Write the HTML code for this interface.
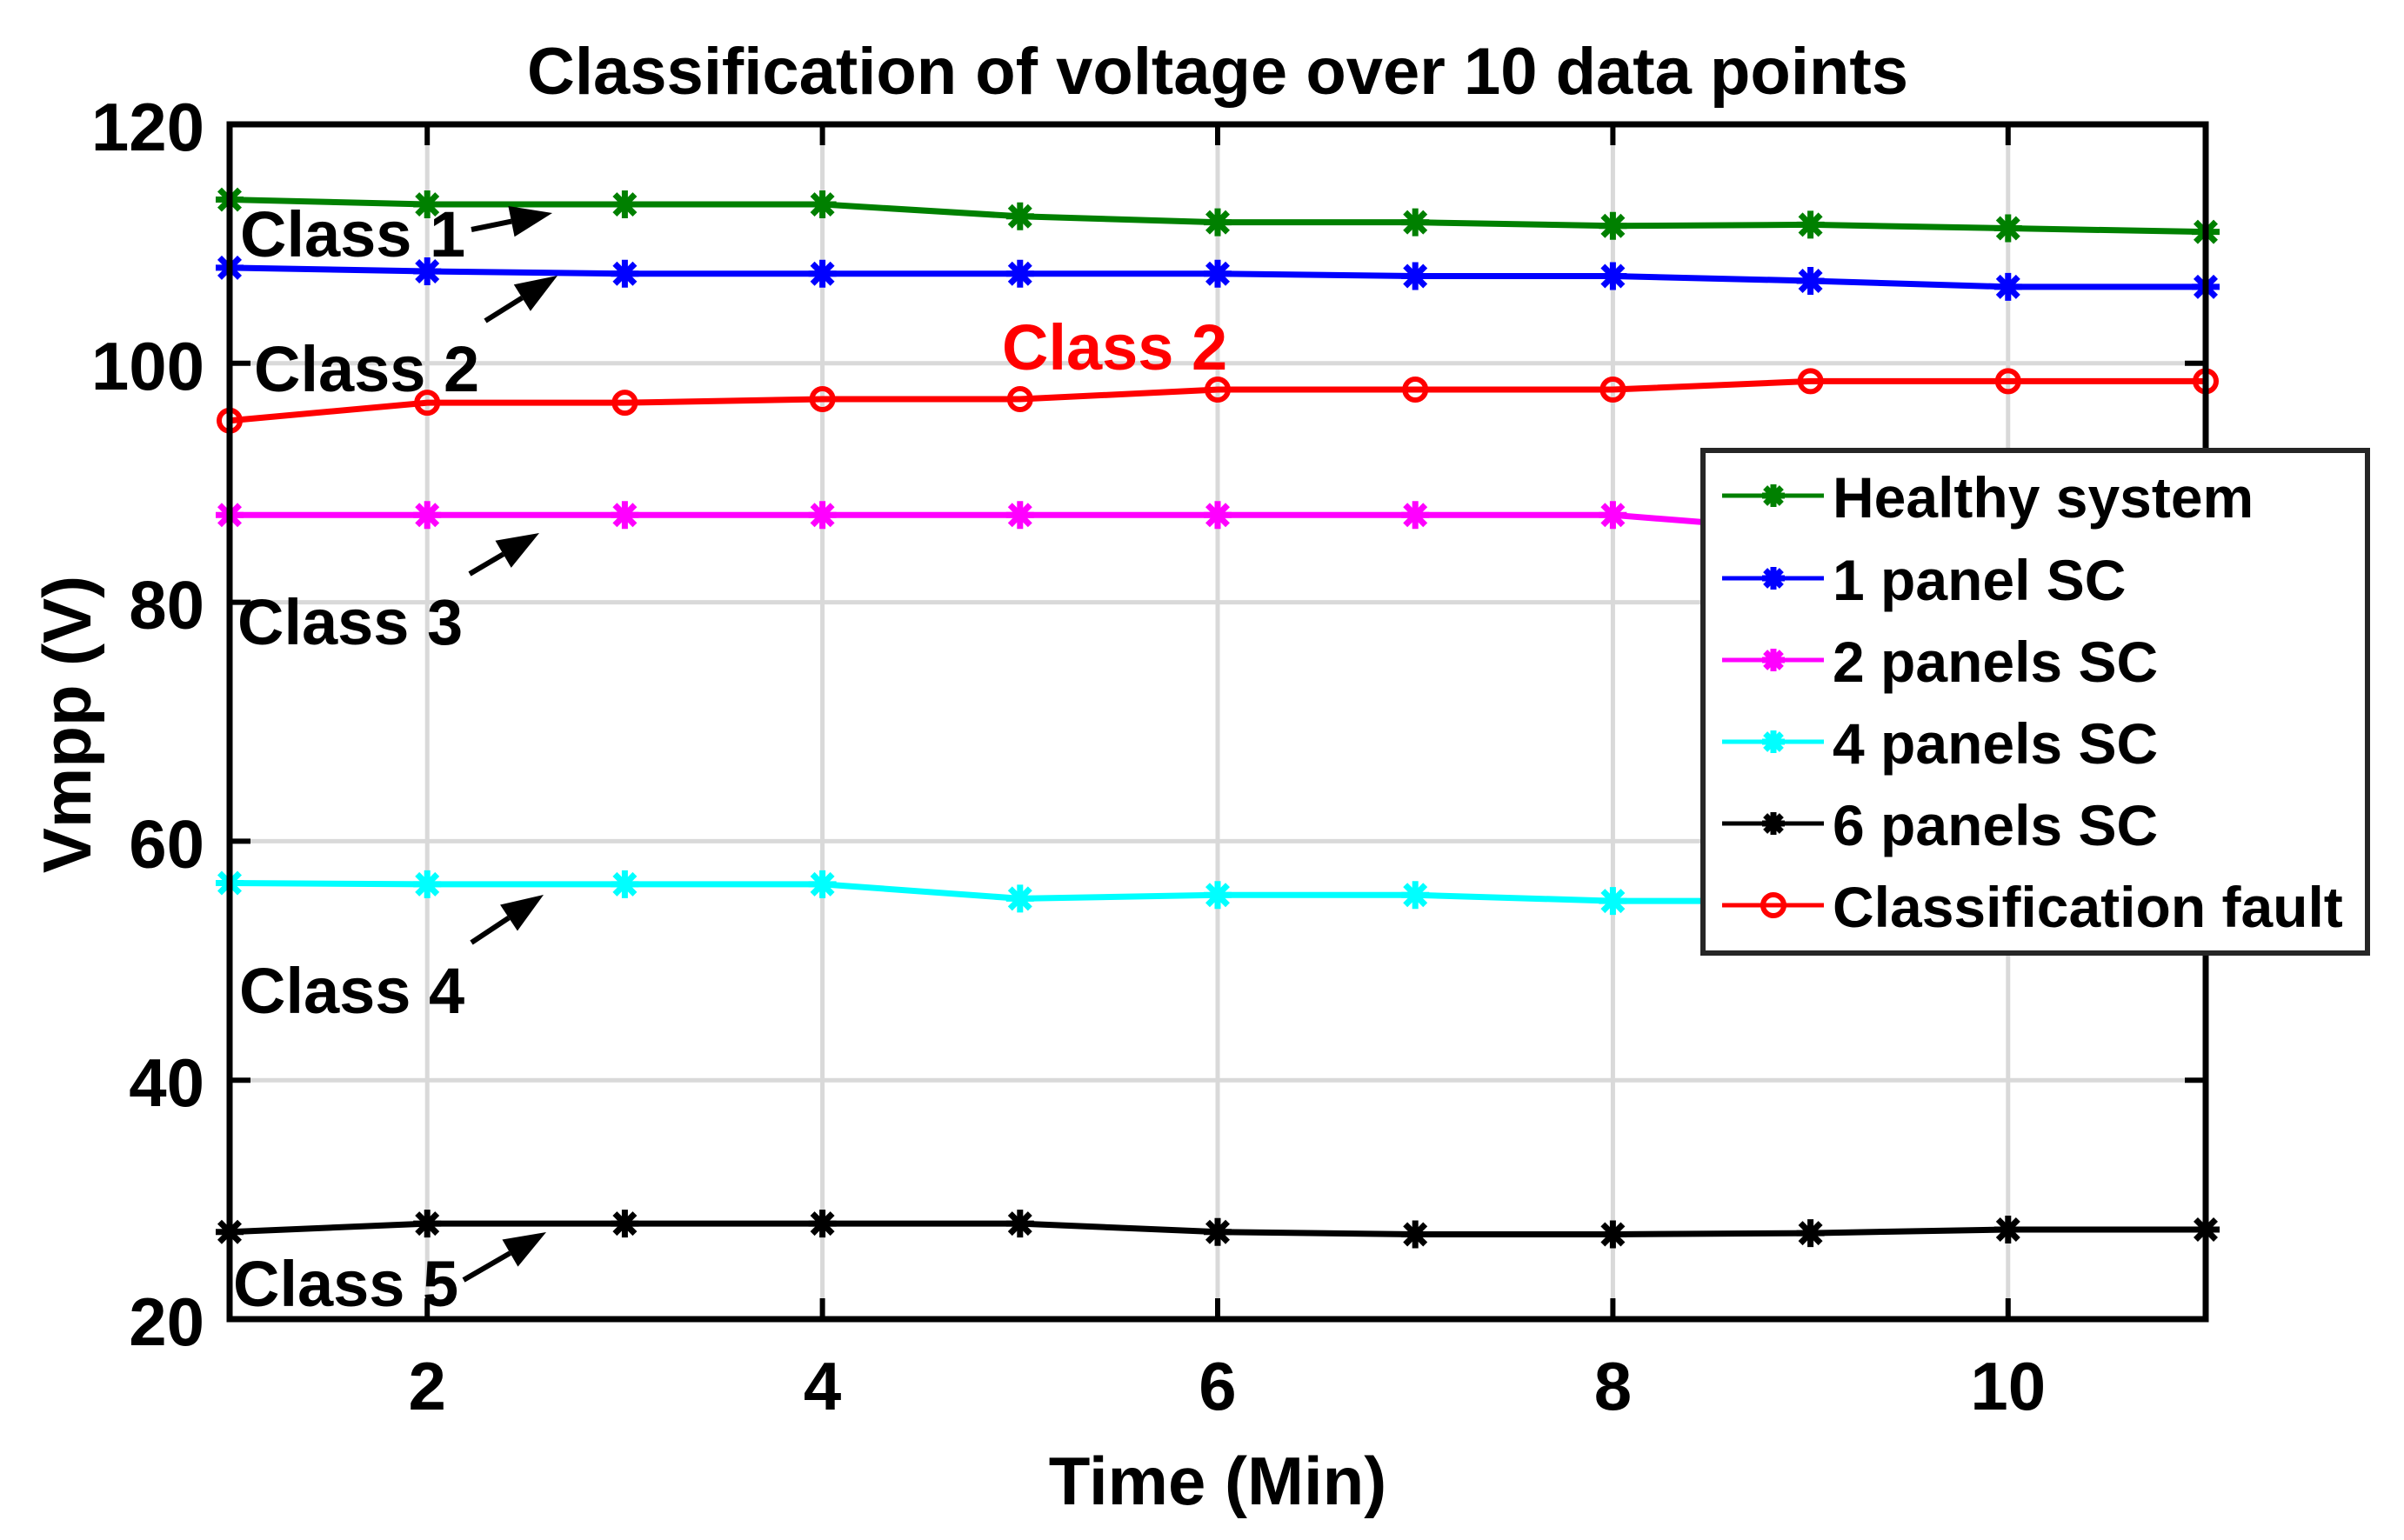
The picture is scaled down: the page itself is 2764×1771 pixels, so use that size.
<!DOCTYPE html>
<html><head><meta charset="utf-8"><style>
html,body{margin:0;padding:0;background:#fff;}
svg{display:block;font-family:"Liberation Sans",Arial,sans-serif;font-weight:bold;}
</style></head><body>
<svg id="chart" width="2764" height="1771" viewBox="0 0 2764 1771" xmlns="http://www.w3.org/2000/svg">
<rect width="2764" height="1771" fill="#fff"/>
<g id="grid"></g>
<g id="series"></g>
<g id="axes"></g>
<text x="1400" y="108" font-size="76" text-anchor="middle">Classification of voltage over 10 data points</text>
<text x="1400" y="1730" font-size="78" text-anchor="middle">Time (Min)</text>
<text x="0" y="0" font-size="78" text-anchor="middle" transform="translate(104,833) rotate(-90)">Vmpp (V)</text>
<g font-size="74">
<text x="276" y="295">Class 1</text>
<text x="292" y="450">Class 2</text>
<text x="273" y="741">Class 3</text>
<text x="275" y="1165">Class 4</text>
<text x="268" y="1502">Class 5</text>
<text x="1152" y="425" fill="#ff0000">Class 2</text>
</g>
<g id="arrows"></g>
<g id="legend"></g>
</svg>
<script>
const xValues = [1,2,3,4,5,6,7,8,9,10,11];
const healthy = [113.7,113.3,113.3,113.3,112.3,111.8,111.8,111.5,111.6,111.3,111.0];
const panel1 = [108.0,107.7,107.5,107.5,107.5,107.5,107.3,107.3,106.9,106.4,106.4];
const panel2 = [87.3,87.3,87.3,87.3,87.3,87.3,87.3,87.3,86.0,86.0,86.0];
const panel4 = [56.5,56.4,56.4,56.4,55.2,55.5,55.5,55.0,55.0,55.0,55.0];
const panel6 = [27.3,28.0,28.0,28.0,28.0,27.3,27.1,27.1,27.2,27.5,27.5];
const fault = [95.2,96.7,96.7,97.0,97.0,97.8,97.8,97.8,98.5,98.5,98.5];
const xTicks = [2,4,6,8,10];
const yTicks = [20,40,60,80,100,120];
const legendLabels = ["Healthy system","1 panel SC","2 panels SC","4 panels SC","6 panels SC","Classification fault"];

const NS="http://www.w3.org/2000/svg";
const L=264,R=2536,T=143,B=1517;
const X=v=>L+(v-1)*(R-L)/10;
const Y=v=>B-(v-20)*(B-T)/100;
function mk(tag,attrs,parent){const e=document.createElementNS(NS,tag);for(const k in attrs)e.setAttribute(k,attrs[k]);parent.appendChild(e);return e;}
const grid=document.getElementById('grid'),axes=document.getElementById('axes'),ser=document.getElementById('series'),arr=document.getElementById('arrows'),leg=document.getElementById('legend');

xTicks.forEach(t=>{
  const g=mk('line',{x1:X(t),x2:X(t),y1:T,y2:B,stroke:'#d9d9d9','stroke-width':5},grid);
  
  
  const tk=mk('line',{x1:X(t),x2:X(t),y1:B,y2:B-24,stroke:'#000','stroke-width':6},axes);
  
  
  const tk2=mk('line',{x1:X(t),x2:X(t),y1:T,y2:T+24,stroke:'#000','stroke-width':6},axes);
  
  
  const lb=mk('text',{x:X(t),y:1621,'font-size':78,'text-anchor':'middle'},axes);
  lb.textContent=t;
  
  
});
yTicks.forEach(t=>{
  if(t>20&&t<120){
    const g=mk('line',{x1:L,x2:R,y1:Y(t),y2:Y(t),stroke:'#d9d9d9','stroke-width':5},grid);
    
    
  }
  const tk=mk('line',{x1:L,x2:L+24,y1:Y(t),y2:Y(t),stroke:'#000','stroke-width':6},axes);
  
  
  const tk2=mk('line',{x1:R,x2:R-24,y1:Y(t),y2:Y(t),stroke:'#000','stroke-width':6},axes);
  
  
  const lb=mk('text',{x:235,y:Y(t)+30,'font-size':78,'text-anchor':'end'},axes);
  lb.textContent=t;
  
  
});
const box=mk('rect',{x:L,y:T,width:R-L,height:B-T,fill:'none',stroke:'#000','stroke-width':7},axes);



function star(cx,cy,color,parent,s){
  const g=mk('g',{stroke:color,'stroke-width':7},parent);
  
  
  mk('line',{x1:cx-s,x2:cx+s,y1:cy,y2:cy},g);
  mk('line',{x1:cx,x2:cx,y1:cy-s,y2:cy+s},g);
  const d=s*0.72;
  mk('line',{x1:cx-d,x2:cx+d,y1:cy-d,y2:cy+d},g);
  mk('line',{x1:cx-d,x2:cx+d,y1:cy+d,y2:cy-d},g);
}
function circ(cx,cy,color,parent){
  const c=mk('circle',{cx:cx,cy:cy,r:12,fill:'none',stroke:color,'stroke-width':6},parent);
  
  
}
const allSeries=[[healthy,'#008000','star','healthy-system-line'],[panel1,'#0000ff','star','1-panel-sc-line'],[panel2,'#ff00ff','star','2-panels-sc-line'],[panel4,'#00ffff','star','4-panels-sc-line'],[panel6,'#000000','star','6-panels-sc-line'],[fault,'#ff0000','circle','classification-fault-line']];
allSeries.forEach(([vals,col,mkType,name])=>{
  const g=mk('g',{},ser);
  
  
  const p=mk('polyline',{points:vals.map((v,i)=>X(xValues[i])+','+Y(v)).join(' '),fill:'none',stroke:col,'stroke-width':7},g);
  
  
  vals.forEach((v,i)=>{ if(mkType==='star') star(X(xValues[i]),Y(v),col,g,16); else circ(X(xValues[i]),Y(v),col,g); });
});

const arrowList=[[542,264,635,245],[558,369,641,317],[540,660,620,613],[542,1084,625,1029],[533,1472,628,1417]];
arrowList.forEach(a=>{
  const g=mk('g',{},arr);
  
  
  const [x1,y1,x2,y2]=a;const ang=Math.atan2(y2-y1,x2-x1);const hl=48,hw=18;
  const bx=x2-hl*Math.cos(ang),by=y2-hl*Math.sin(ang);
  mk('line',{x1:x1,y1:y1,x2:bx,y2:by,stroke:'#000','stroke-width':6},g);
  mk('polygon',{points:`${x2},${y2} ${bx+hw*Math.sin(ang)},${by-hw*Math.cos(ang)} ${bx-hw*Math.sin(ang)},${by+hw*Math.cos(ang)}`,fill:'#000'},g);
});

const lr=mk('rect',{x:1958,y:518,width:764,height:578,fill:'#fff',stroke:'#262626','stroke-width':6},leg);


const rowY=[570,665,759,853,947,1041];
legendLabels.forEach((lab,i)=>{
  const col=allSeries[i][1];
  const g=mk('g',{},leg);
  
  
  mk('line',{x1:1980,x2:2097,y1:rowY[i],y2:rowY[i],stroke:col,'stroke-width':5},g);
  if(allSeries[i][2]==='star') star(2039,rowY[i],col,g,13); else circ(2039,rowY[i],col,g);
  const t=mk('text',{x:2107,y:rowY[i]+25,'font-size':66},g);
  t.textContent=lab;
  
  
});
</script>
</body></html>
